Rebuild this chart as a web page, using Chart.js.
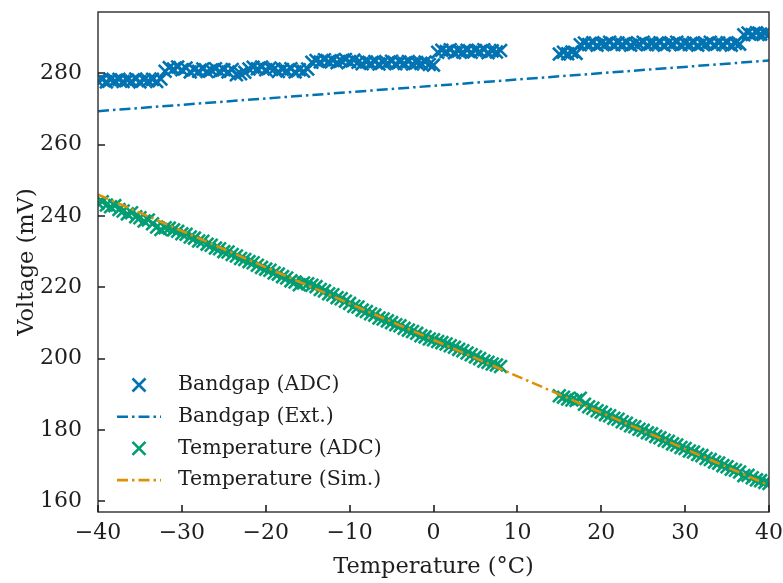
<!DOCTYPE html>
<html>
<head>
<meta charset="utf-8">
<script src="https://cdn.jsdelivr.net/npm/chart.js@4.4.1/dist/chart.umd.min.js"></script>
<style>
  html, body { margin: 0; padding: 0; background: #fff; }
  #wrap { width: 783px; height: 583px; }
</style>
</head>
<body>
<div id="wrap"><canvas id="voltChart" width="783" height="583"></canvas></div>
<script>
// sweep temperatures (°C), two runs with a gap between 8 and 15 °C
var tempLow = [
  -40, -39.5, -39, -38.5, -38, -37.5, -37, -36.5, -36, -35.5,
  -35, -34.5, -34, -33.5, -33, -32.5, -32, -31.5, -31, -30.5,
  -30, -29.5, -29, -28.5, -28, -27.5, -27, -26.5, -26, -25.5,
  -25, -24.5, -24, -23.5, -23, -22.5, -22, -21.5, -21, -20.5,
  -20, -19.5, -19, -18.5, -18, -17.5, -17, -16.5, -16, -15.5,
  -15, -14.5, -14, -13.5, -13, -12.5, -12, -11.5, -11, -10.5,
  -10, -9.5, -9, -8.5, -8, -7.5, -7, -6.5, -6, -5.5,
  -5, -4.5, -4, -3.5, -3, -2.5, -2, -1.5, -1, -0.5,
  0, 0.5, 1, 1.5, 2, 2.5, 3, 3.5, 4, 4.5,
  5, 5.5, 6, 6.5, 7, 7.5, 8
];
var tempHigh = [
  15, 15.5, 16, 16.5, 17, 17.5, 18, 18.5, 19, 19.5,
  20, 20.5, 21, 21.5, 22, 22.5, 23, 23.5, 24, 24.5,
  25, 25.5, 26, 26.5, 27, 27.5, 28, 28.5, 29, 29.5,
  30, 30.5, 31, 31.5, 32, 32.5, 33, 33.5, 34, 34.5,
  35, 35.5, 36, 36.5, 37, 37.5, 38, 38.5, 39, 39.5,
  40
];

// bandgap reading from the ADC (mV)
var bandgapLow = [
  277.8, 278.3, 277.6, 278.2, 277.9, 278.3, 277.7, 278.1, 277.8, 278.4,
  277.6, 278.2, 277.9, 278.3, 277.7, 278.4, 280.6, 281.6, 281.2, 281.8,
  281.0, 281.5, 280.4, 281.0, 280.6, 281.2, 280.5, 280.9, 281.3, 280.6,
  281.0, 280.4, 281.1, 279.6, 279.9, 280.3, 281.2, 281.7, 281.3, 281.8,
  281.0, 281.5, 281.2, 280.5, 281.1, 280.7, 281.3, 280.4, 281.0, 280.6,
  281.2, 283.1, 283.6, 283.2, 283.8, 283.3, 283.6, 283.0, 283.5, 283.9,
  283.3, 283.7, 283.1, 282.7, 283.2, 282.8, 283.3, 282.6, 283.1, 282.9,
  283.4, 282.7, 283.2, 282.8, 283.3, 282.6, 283.0, 282.8, 283.2, 282.5,
  282.3, 285.9, 286.5, 286.1, 286.6, 285.8, 286.3, 286.0, 286.5, 285.9,
  286.4, 286.1, 286.6, 285.8, 286.3, 286.0, 286.4
];
var bandgapHigh = [
  285.4, 285.9, 285.5, 286.0, 285.6, 288.0, 288.5, 288.1, 288.6, 287.9,
  288.4, 288.2, 288.7, 288.0, 288.5, 288.1, 288.6, 287.9, 288.3, 288.2,
  288.7, 288.0, 288.4, 288.1, 288.6, 287.9, 288.5, 288.2, 288.7, 288.0,
  288.4, 288.1, 288.6, 287.9, 288.4, 288.2, 288.7, 288.0, 288.5, 288.1,
  288.6, 287.9, 288.4, 288.2, 290.8, 291.3, 290.9, 291.4, 291.0, 291.2,
  290.9
];

// temperature sensor reading from the ADC (mV)
var sensorLow = [
  243.6, 244.0, 243.1, 242.6, 242.9, 241.8, 241.4, 240.6, 240.9, 239.8,
  239.5, 238.6, 238.9, 237.8, 236.9, 236.2, 236.7, 236.6, 236.1, 235.7,
  235.0, 234.9, 234.1, 233.8, 233.0, 232.9, 232.1, 231.8, 231.0, 230.8,
  230.0, 229.9, 229.2, 228.8, 228.1, 227.8, 227.2, 226.9, 226.2, 225.6,
  225.1, 224.8, 224.0, 223.7, 223.0, 222.6, 221.8, 221.5, 220.7, 221.2,
  221.0, 220.6, 220.2, 219.4, 219.0, 218.2, 217.9, 217.1, 216.8, 216.1,
  215.5, 214.7, 214.5, 213.6, 213.2, 212.6, 212.2, 211.4, 211.1, 210.6,
  210.1, 209.5, 209.2, 208.5, 208.0, 207.6, 207.1, 206.4, 206.1, 205.5,
  205.3, 204.8, 204.5, 204.1, 203.6, 203.2, 202.6, 202.2, 201.6, 201.1,
  200.5, 200.0, 199.3, 199.0, 198.5, 198.2, 197.8
];
var sensorHigh = [
  189.6, 189.2, 188.7, 188.4, 188.3, 188.9, 187.2, 186.5, 186.1, 185.4,
  185.0, 184.3, 184.0, 183.3, 183.0, 182.3, 181.9, 181.2, 180.9, 180.2,
  179.9, 179.2, 178.9, 178.2, 177.8, 177.1, 176.8, 176.1, 175.8, 175.1,
  174.8, 174.1, 173.8, 173.1, 172.8, 172.0, 171.7, 171.0, 170.7, 170.0,
  169.7, 169.0, 168.7, 168.2, 167.2, 167.3, 166.6, 166.0, 165.8, 165.3,
  165.0
];

// straight-line references over the full range
var fitTemps = [-40, 40];
var bandgapExt = [269.4, 283.6];
var sensorSim = [246.0, 164.5];

var xTicks = [-40, -30, -20, -10, 0, 10, 20, 30, 40];
var yTicks = [160, 180, 200, 220, 240, 260, 280];

var BLUE = '#0173b2', GREEN = '#029e73', ORANGE = '#de8f05';
var INK = '#1e1e1e';
var SERIF = '"DejaVu Serif", serif';
var DASHDOT = [11, 4, 2.5, 4];

function toPoints(xs, ys) {
  return xs.map(function (x, i) { return { x: x, y: ys[i] }; });
}

var legendItems = [
  { label: 'Bandgap (ADC)', color: BLUE, kind: 'cross' },
  { label: 'Bandgap (Ext.)', color: BLUE, kind: 'line' },
  { label: 'Temperature (ADC)', color: GREEN, kind: 'cross' },
  { label: 'Temperature (Sim.)', color: ORANGE, kind: 'line' }
];

// box, inward ticks and the in-plot legend
var framePlugin = {
  id: 'frame',
  afterDraw: function (chart) {
    var ctx = chart.ctx, a = chart.chartArea;
    var xs = chart.scales.x, ys = chart.scales.y;
    ctx.save();
    ctx.strokeStyle = '#3a3a3a';
    ctx.lineWidth = 1.5;
    ctx.strokeRect(a.left, a.top, a.right - a.left, a.bottom - a.top);

    ctx.strokeStyle = INK;
    ctx.lineWidth = 1.6;
    ctx.beginPath();
    xTicks.forEach(function (v) {
      var px = Math.round(xs.getPixelForValue(v));
      ctx.moveTo(px, a.bottom);
      ctx.lineTo(px, a.bottom - 7);
    });
    yTicks.forEach(function (v) {
      var py = Math.round(ys.getPixelForValue(v));
      ctx.moveTo(a.left, py);
      ctx.lineTo(a.left + 7, py);
    });
    ctx.stroke();

    var rowY = a.bottom - 127;
    ctx.font = '20.5px ' + SERIF;
    ctx.textBaseline = 'middle';
    ctx.textAlign = 'left';
    legendItems.forEach(function (item) {
      ctx.strokeStyle = item.color;
      ctx.lineWidth = 2.6;
      if (item.kind === 'cross') {
        var cx = a.left + 41, r = 6.5;
        ctx.setLineDash([]);
        ctx.beginPath();
        ctx.moveTo(cx - r, rowY - r); ctx.lineTo(cx + r, rowY + r);
        ctx.moveTo(cx - r, rowY + r); ctx.lineTo(cx + r, rowY - r);
        ctx.stroke();
      } else {
        ctx.setLineDash(DASHDOT);
        ctx.beginPath();
        ctx.moveTo(a.left + 19, rowY);
        ctx.lineTo(a.left + 63, rowY);
        ctx.stroke();
        ctx.setLineDash([]);
      }
      ctx.fillStyle = INK;
      ctx.fillText(item.label, a.left + 80, rowY);
      rowY += 31.7;
    });
    ctx.restore();
  }
};

var markerStyle = {
  showLine: false,
  pointStyle: 'crossRot',
  pointRadius: 9,
  pointHoverRadius: 9,
  pointBorderWidth: 2.6,
  clip: 0
};

var datasets = [
  Object.assign({
    label: 'Bandgap (ADC)',
    data: toPoints(tempLow, bandgapLow).concat(toPoints(tempHigh, bandgapHigh)),
    borderColor: BLUE, backgroundColor: BLUE, order: 3
  }, markerStyle),
  {
    label: 'Bandgap (Ext.)', type: 'line',
    data: toPoints(fitTemps, bandgapExt),
    borderColor: BLUE, borderWidth: 2.5, borderDash: DASHDOT,
    pointRadius: 0, fill: false, order: 2, clip: 0
  },
  Object.assign({
    label: 'Temperature (ADC)',
    data: toPoints(tempLow, sensorLow).concat(toPoints(tempHigh, sensorHigh)),
    borderColor: GREEN, backgroundColor: GREEN, order: 1
  }, markerStyle),
  {
    label: 'Temperature (Sim.)', type: 'line',
    data: toPoints(fitTemps, sensorSim),
    borderColor: ORANGE, borderWidth: 2.5, borderDash: DASHDOT,
    pointRadius: 0, fill: false, order: 0, clip: 0
  }
];

function useTicks(values) {
  return function (s) {
    s.ticks = values.map(function (v) { return { value: v }; });
  };
}

var ctx = document.getElementById('voltChart').getContext('2d');
new Chart(ctx, {
  type: 'scatter',
  data: { datasets: datasets },
  options: {
    responsive: false,
    devicePixelRatio: 1,
    animation: false,
    layout: { padding: { top: 12, right: 14, left: 0, bottom: 0 } },
    plugins: { legend: { display: false }, tooltip: { enabled: false } },
    scales: {
      x: {
        type: 'linear', min: -40, max: 40,
        afterBuildTicks: useTicks(xTicks),
        afterFit: function (s) { s.height = 71; s.paddingLeft = 0; s.paddingRight = 0; },
        grid: { display: false, drawTicks: false },
        border: { display: false },
        ticks: {
          padding: 8, color: INK,
          font: { family: SERIF, size: 22 },
          callback: function (v) { return String(v).replace('-', '\u2212'); }
        },
        title: {
          display: true, text: 'Temperature (°C)', color: INK,
          font: { family: SERIF, size: 22.5 }, padding: { top: 0, bottom: 2 }
        }
      },
      y: {
        type: 'linear', min: 157, max: 297.2,
        afterBuildTicks: useTicks(yTicks),
        afterFit: function (s) { s.width = 98; s.paddingTop = 0; s.paddingBottom = 0; },
        grid: { display: false, drawTicks: false },
        border: { display: false },
        ticks: {
          padding: 16, color: INK,
          font: { family: SERIF, size: 22 }
        },
        title: {
          display: true, text: 'Voltage (mV)', color: INK,
          font: { family: SERIF, size: 22.5 }, padding: { top: 14, bottom: 0 }
        }
      }
    }
  },
  plugins: [framePlugin]
});
</script>
</body>
</html>
